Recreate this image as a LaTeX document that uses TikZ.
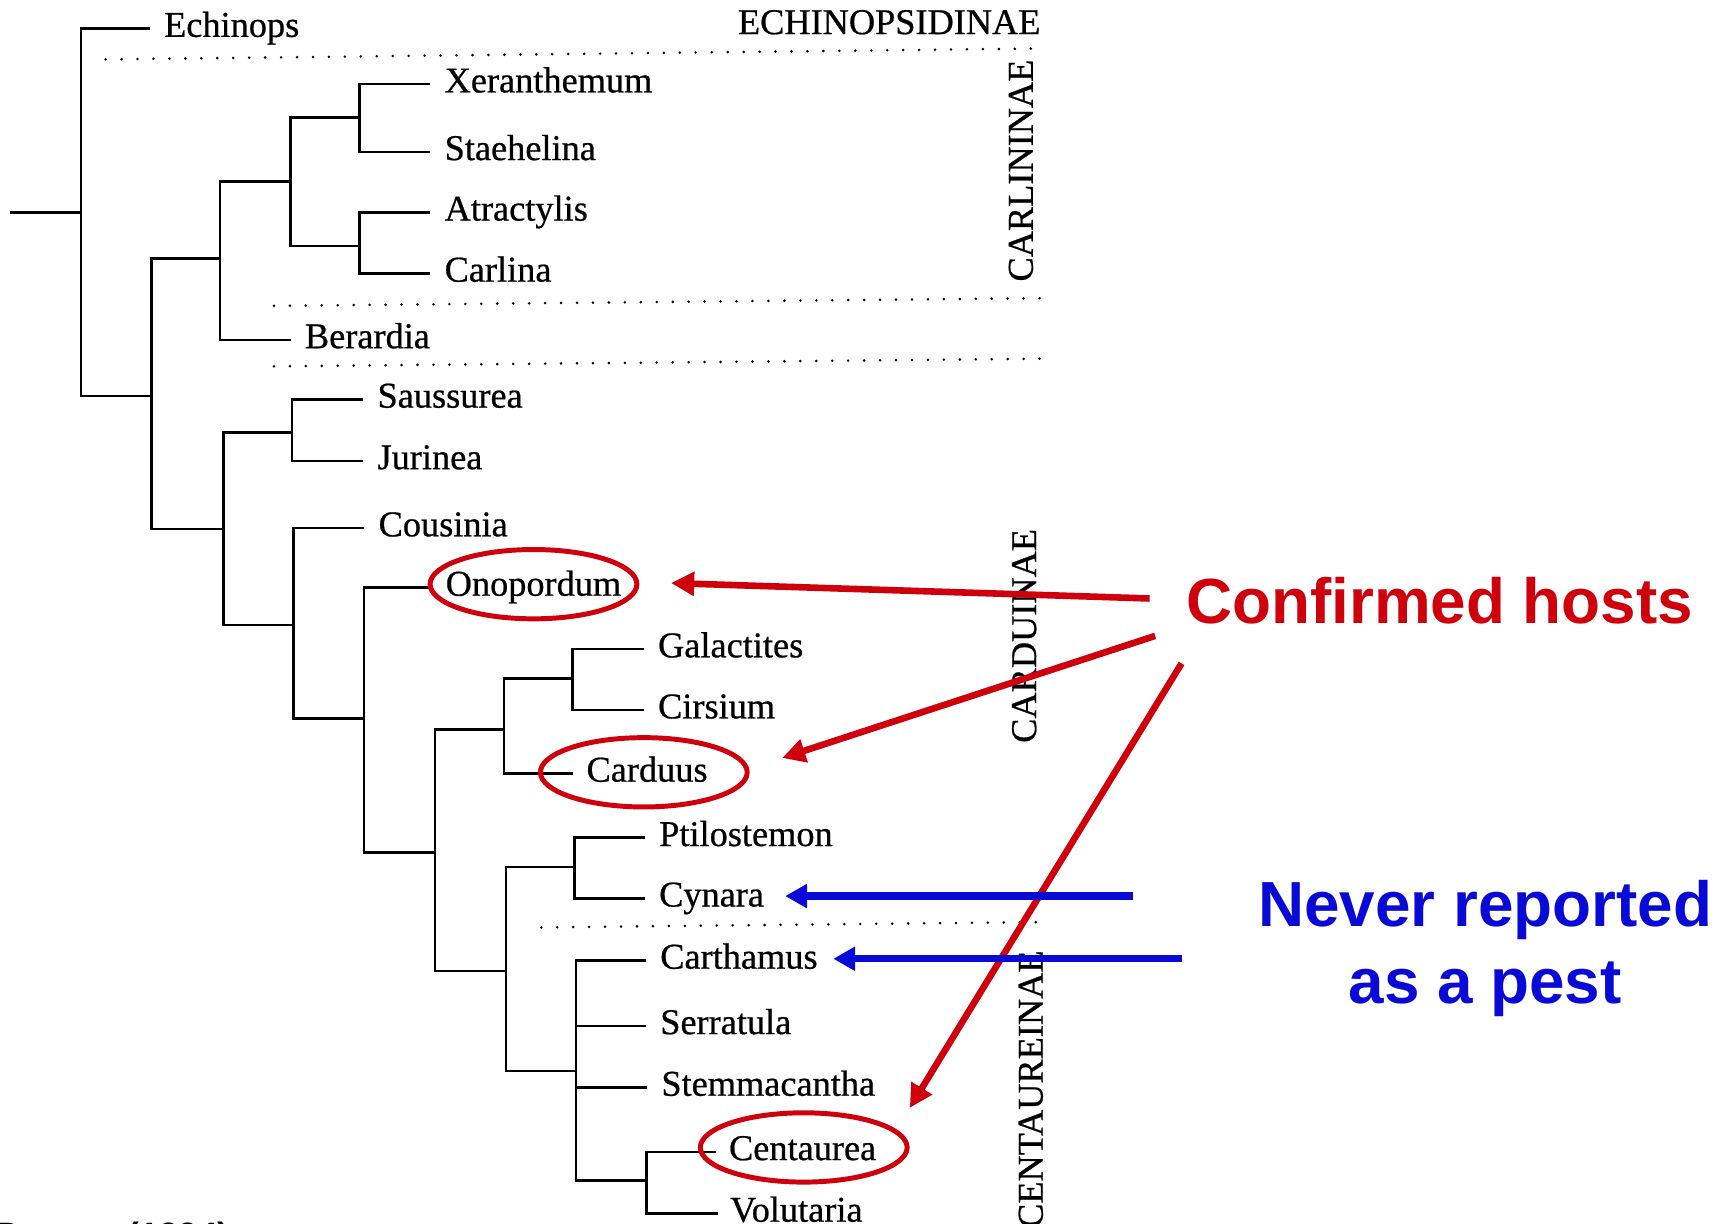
\documentclass[tikz,border=0pt]{standalone}
\usepackage{fontspec}
\setmainfont{Liberation Serif}
\newfontfamily\taxfont[FakeBold=0.6]{Liberation Serif}
\newfontfamily\arialfont{Liberation Sans}
\usetikzlibrary{positioning,arrows.meta,shapes.geometric}
\definecolor{hostred}{RGB}{206,0,12}
\definecolor{pestblue}{RGB}{10,10,214}

\begin{document}
\begin{tikzpicture}[x=1pt, y=-1pt,
    branch/.style={line width=2.4pt, line cap=rect},
    leaf/.style={anchor=west, inner xsep=14pt, inner ysep=0pt, text height=15pt, text depth=0pt,
      font=\taxfont\fontsize{33}{40}\selectfont},
    subtribe/.style={inner sep=0pt, font=\taxfont\fontsize{33}{40}\selectfont},
    divider/.style={line width=2.6pt, line cap=round, dash pattern=on 0pt off 14.5pt},
    ring/.style={ellipse, draw=hostred, line width=4.5pt, inner sep=0pt,
      minimum width=188pt, minimum height=63pt},
    hostarrow/.style={-{Triangle[length=21pt,width=21pt]}, line width=6pt, hostred},
    pestarrow/.style={-{Triangle[length=20pt,width=21pt]}, line width=6.5pt, pestblue},
    bigtext/.style={inner sep=0pt, font=\arialfont\bfseries\fontsize{58}{70}\selectfont}]
  \useasboundingbox (0,0) rectangle (1568,1112);
  \clip (0,0) rectangle (1568,1112);

  % --- inner vertices of the tree ---
  \coordinate (base) at (10,193);
  \coordinate (root) at (73.5,193);
  \coordinate (n1) at (138,360);
  \coordinate (n2) at (200,235);
  \coordinate (n3) at (264,165);
  \coordinate (n4) at (327,107);
  \coordinate (n5) at (327,223.5);
  \coordinate (n6) at (203,481);
  \coordinate (n7) at (265.5,393);
  \coordinate (n8) at (267,568);
  \coordinate (n9) at (331,653);
  \coordinate (n10) at (395.5,775);
  \coordinate (n11) at (458,663);
  \coordinate (n12) at (520.5,617);
  \coordinate (n13) at (460,882.5);
  \coordinate (n14) at (522,788);
  \coordinate (n15) at (523.5,973.5);
  \coordinate (n16) at (587.5,1073);

  % --- genera ---
  \node[leaf] (echinops) at (135,26) {Echinops};
  \node[leaf] (xeranth) at (390,76.5) {Xeranthemum};
  \node[leaf] (staeh) at (390,138) {Staehelina};
  \node[leaf] (atract) at (390,193) {Atractylis};
  \node[leaf] (carlina) at (390,248.5) {Carlina};
  \node[leaf] (berardia) at (263,309) {Berardia};
  \node[leaf] (saussurea) at (329,363) {Saussurea};
  \node[leaf] (jurinea) at (329,419) {Jurinea};
  \node[leaf] (cousinia) at (330,480) {Cousinia};
  \node[leaf] (onopordum) at (391,534) {Onopordum};
  \node[leaf] (galactites) at (584,590) {Galactites};
  \node[leaf] (cirsium) at (584,645.5) {Cirsium};
  \node[leaf, inner xsep=13pt] (carduus) at (520,703) {Carduus};
  \node[leaf] (ptilostemon) at (585,761.5) {Ptilostemon};
  \node[leaf] (cynara) at (585,816.5) {Cynara};
  \node[leaf] (carthamus) at (586,873) {Carthamus};
  \node[leaf] (serratula) at (586,932.5) {Serratula};
  \node[leaf] (stemmacantha) at (587,988.5) {Stemmacantha};
  \node[leaf, inner xsep=12.5pt] (centaurea) at (650,1047) {Centaurea};
  \node[leaf, inner xsep=12.5pt] (volutaria) at (651,1103) {Volutaria};

  % --- branches ---
  \draw[branch] (base) -- (root);
  \foreach \p/\c in {root/n1, n1/n2, n1/n6, n2/n3, n3/n4, n3/n5, n6/n7, n6/n8,
      n8/n9, n9/n10, n10/n11, n10/n13, n11/n12, n13/n14, n13/n15, n15/n16}
    \draw[branch] (\p) |- (\c);
  \foreach \p/\c in {root/echinops, n2/berardia, n4/xeranth, n4/staeh, n5/atract,
      n5/carlina, n7/saussurea, n7/jurinea, n8/cousinia, n9/onopordum,
      n12/galactites, n12/cirsium, n11/carduus, n14/ptilostemon, n14/cynara,
      n15/carthamus, n15/serratula, n15/stemmacantha, n16/centaurea, n16/volutaria}
    \draw[branch] (\p) |- (\c.west);

  % --- subtribe borders and names ---
  \draw[divider] (96,54) -- (950,44);
  \draw[divider] (249,278) -- (950,271);
  \draw[divider] (249,333) -- (950,326);
  \draw[divider] (492,843) -- (955,838);
  \node[subtribe, anchor=base east] (echinopsidinae) at (946,31) {ECHINOPSIDINAE};
  \node[subtribe, rotate=90] (carlininae) at (928,155) {CARLININAE};
  \node[subtribe, rotate=90] (carduinae) at (931,578) {CARDUINAE};
  \node[subtribe, rotate=90] (centaureinae) at (937,990) {CENTAUREINAE};

  % --- host rings ---
  \node[ring] (onopRing) at ([yshift=3pt]onopordum.center) {};
  \node[ring] (carduusRing) at ([xshift=-3pt,yshift=1pt]carduus.center) {};
  \node[ring] (centRing) at ([xshift=1pt,yshift=4pt]centaurea.center) {};

  % --- callouts ---
  \node[bigtext, text=hostred, anchor=base west] (hosts) at (1078,567) {Confirmed hosts};
  \node[bigtext, text=pestblue, align=center] (pest) at (1350,862) {Never reported\\as a pest};
  \node[inner sep=0pt, anchor=base east, font=\arialfont\bfseries\fontsize{32}{38}\selectfont]
    (source) at (209,1134) {Bremer (1994)};

  \coordinate (hostsA) at (1045,544);
  \coordinate (hostsB) at (1050,578);
  \coordinate (hostsC) at (1074,603);
  \coordinate (tipOnop) at (610,530);
  \coordinate (tipCarduus) at (711,689);
  \coordinate (tipCent) at (827,1007);
  \coordinate (pestA) at (1030,814.5);
  \coordinate (pestB) at (1074,871.5);
  \draw[hostarrow] (hostsA) -- (tipOnop);
  \draw[hostarrow] (hostsB) -- (tipCarduus);
  \draw[hostarrow] (hostsC) -- (tipCent);
  \draw[pestarrow] (pestA) -- ([xshift=5pt,yshift=2pt]cynara.east);
  \draw[pestarrow] (pestB) -- ([yshift=1.5pt]carthamus.east);

\end{tikzpicture}
\end{document}
